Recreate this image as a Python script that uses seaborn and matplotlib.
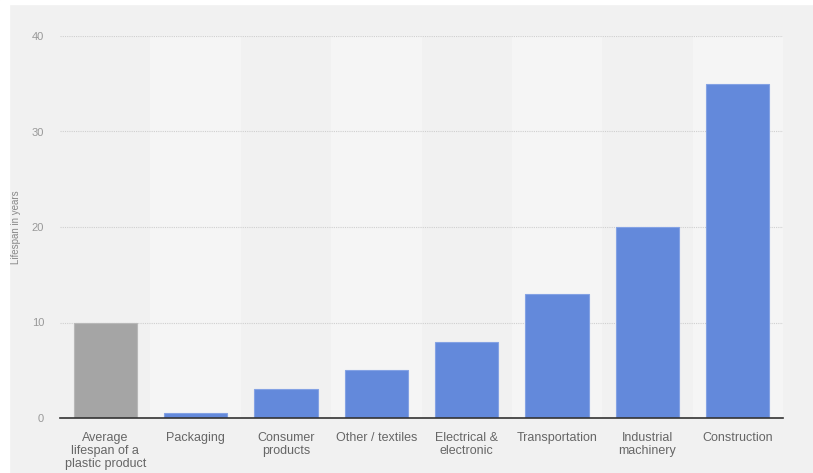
import matplotlib
matplotlib.use("Agg")
import matplotlib.pyplot as plt
import seaborn as sns
import pandas as pd
from matplotlib.patches import Rectangle

categories = ["Average\nlifespan of a\nplastic product", "Packaging", "Consumer\nproducts",
              "Other / textiles", "Electrical &\nelectronic", "Transportation",
              "Industrial\nmachinery", "Construction"]
values = [10, 0.5, 3, 5, 8, 13, 20, 35]
colors = ["#a5a5a5"] + ["#6389db"] * 7
edge_colors = ["#b8b8b8"] + ["#84a2e4"] * 7
y_ticks = [0, 10, 20, 30, 40]

sns.set_theme(style="white")
plt.rcParams['font.family'] = ['Liberation Sans', 'DejaVu Sans']

bg = "#f1f1f1"
fig = plt.figure(figsize=(8.13, 4.73), dpi=100, facecolor=bg)
# white border strips at left and top
fig.patches.append(Rectangle((0, 0), 9 / 813, 1, transform=fig.transFigure, color="white", zorder=-1))
fig.patches.append(Rectangle((0, 1 - 4 / 473), 1, 4 / 473, transform=fig.transFigure, color="white", zorder=-1))

ax = fig.add_axes([60 / 813, 1 - 418 / 473, 723 / 813, 382 / 473])
ax.set_facecolor(bg)

df = pd.DataFrame({"category": categories, "value": values})
sns.barplot(data=df, x="category", y="value", hue="category", palette=colors,
            legend=False, width=0.7, ax=ax, zorder=3, saturation=1)
for patch, ec in zip(ax.patches, edge_colors):
    patch.set_edgecolor(ec)
    patch.set_linewidth(0.8)

# alternating column bands
for i in range(len(categories)):
    if i % 2 == 1:
        ax.axvspan(i - 0.5, i + 0.5, color="#f5f5f5", zorder=0, lw=0)

ax.set_xlim(-0.5, len(categories) - 0.5)
ax.set_ylim(0, 40)
ax.set_yticks(y_ticks)
for t in y_ticks[1:]:
    ax.axhline(t, color="#cfcfcf", lw=0.8, ls=(0, (1, 1)), zorder=1)

for s in ["top", "right", "left"]:
    ax.spines[s].set_visible(False)
ax.spines["bottom"].set_color("#333333")
ax.spines["bottom"].set_linewidth(1.2)
ax.spines["bottom"].set_zorder(5)

ax.tick_params(axis="y", length=0, pad=11.5, labelsize=8, labelcolor="#999999")
ax.tick_params(axis="x", length=0, pad=10, labelsize=9, labelcolor="#666666")
for lbl in ax.get_xticklabels():
    lbl.set_linespacing(1.12)

ax.set_xlabel("")
ax.set_ylabel("Lifespan in years", fontsize=7, color="#888888")
ax.yaxis.set_label_coords(-39 / 723, 0.5)

fig.savefig("out.png", dpi=100, facecolor=bg)
